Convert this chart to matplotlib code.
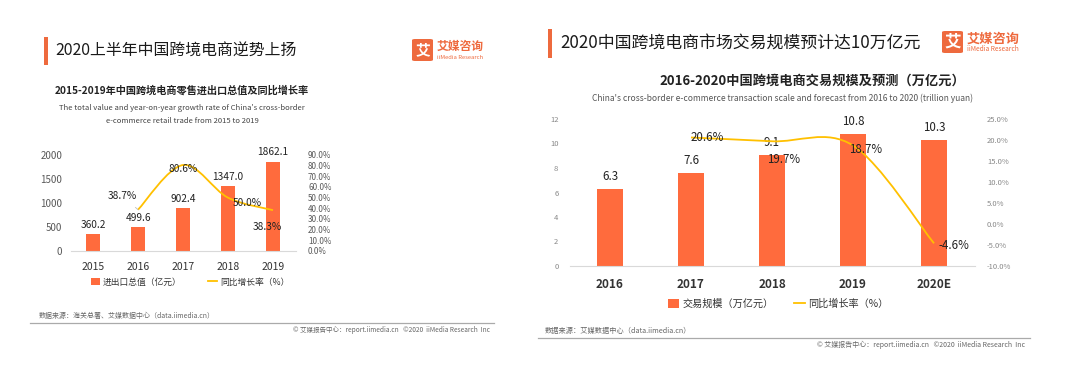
import numpy as np
import matplotlib.pyplot as plt
from matplotlib.path import Path
from matplotlib.patches import PathPatch, FancyBboxPatch, Rectangle
from matplotlib.lines import Line2D
from matplotlib.ticker import FuncFormatter

plt.rcParams['font.family'] = ['Noto Sans CJK SC', 'DejaVu Sans']

# left chart: 2015-2019 retail import/export value
years_a = ['2015', '2016', '2017', '2018', '2019']
trade_a = [360.2, 499.6, 902.4, 1347.0, 1862.1]
growth_a = [None, 38.7, 80.6, 50.0, 38.3]

# right chart: 2016-2020 transaction scale
years_b = ['2016', '2017', '2018', '2019', '2020E']
scale_b = [6.3, 7.6, 9.1, 10.8, 10.3]
growth_b = [None, 20.6, 19.7, 18.7, -4.6]

W, H = 1068, 372
BAR = '#FF6B3D'
LINE = '#FFC000'
ORANGE = '#EE6A3E'

fig = plt.figure(figsize=(W / 100, H / 100), dpi=100)


def px_ax(x0, x1, ytop, ybot):
    return fig.add_axes([x0 / W, 1 - ybot / H, (x1 - x0) / W, (ybot - ytop) / H])


def ftext(x, y, s, **kw):
    fig.text(x / W, 1 - y / H, s, **kw)


def smooth_path(xs, ys):
    # catmull-rom style smoothing (like excel "smoothed line")
    p = np.column_stack([xs, ys]).astype(float)
    pts = [p[0]]
    codes = [Path.MOVETO]
    n = len(p)
    for i in range(n - 1):
        p0 = p[max(i - 1, 0)]
        p3 = p[min(i + 2, n - 1)]
        c1 = p[i] + (p[i + 1] - p0) / 6
        c2 = p[i + 1] - (p3 - p[i]) / 6
        pts += [c1, c2, p[i + 1]]
        codes += [Path.CURVE4] * 3
    return Path(pts, codes)


def logo(x, y, w, h, fs):
    fig.patches.append(FancyBboxPatch((x / W, 1 - (y + h) / H), w / W, h / H,
                                      boxstyle='round,pad=0,rounding_size=0.003',
                                      transform=fig.transFigure, fc=ORANGE, ec='none'))
    ftext(x + w / 2, y + h / 2, '艾', color='white', fontsize=fs * 1.25,
          fontweight='bold', ha='center', va='center')
    ftext(x + w + 4, y + h * 0.36, '艾媒咨询', color=ORANGE, fontsize=fs,
          fontweight='bold', ha='left', va='center')
    ftext(x + w + 4, y + h * 0.82, 'iiMedia Research', color=ORANGE, fontsize=fs * 0.5,
          ha='left', va='center')


def title_bar(x, y0, y1):
    fig.patches.append(Rectangle((x / W, 1 - y1 / H), 4 / W, (y1 - y0) / H,
                                 transform=fig.transFigure, fc=ORANGE, ec='none'))


def style(ax):
    for s in ['top', 'left', 'right']:
        ax.spines[s].set_visible(False)
    ax.spines['bottom'].set_color('#d9d9d9')
    ax.tick_params(length=0)


# ---------------- left panel ----------------
title_bar(44, 37, 65)
ftext(55, 51, '2020上半年中国跨境电商逆势上扬', fontsize=11.4, color='#1a1a1a', va='center')
logo(412, 39, 21, 22, 8.5)
ftext(182, 90, '2015-2019年中国跨境电商零售进出口总值及同比增长率', fontsize=7.3,
      fontweight='bold', color='#222222', ha='center', va='center')
ftext(182, 108, "The total value and year-on-year growth rate of China's cross-border",
      fontsize=5.5, color='#444444', ha='center', va='center')
ftext(182, 121, 'e-commerce retail trade from 2015 to 2019',
      fontsize=5.5, color='#444444', ha='center', va='center')

ax1 = px_ax(70.5, 295.5, 155, 251)
x = np.arange(len(years_a))
bars = ax1.bar(x, trade_a, width=0.31, color=BAR, zorder=2)
ax1.set_xlim(-0.5, 4.5)
ax1.set_ylim(0, 2000)
ax1.set_yticks(range(0, 2001, 500))
ax1.set_xticks(x, years_a)
style(ax1)
ax1.tick_params(axis='y', labelsize=7, labelcolor='#595959', pad=6)
ax1.tick_params(axis='x', labelsize=7.5, labelcolor='#333333', pad=8)
ax1.bar_label(bars, labels=[f'{v:.1f}' for v in trade_a], padding=3, fontsize=7.3, color='#222222')

ax1r = ax1.twinx()
ax1r.set_ylim(0, 90)
ax1r.set_yticks(range(0, 91, 10))
ax1r.yaxis.set_major_formatter(FuncFormatter(lambda v, p: f'{v:.1f}%'))
ax1r.tick_params(length=0, labelsize=5.8, labelcolor='#595959', pad=9)
for s in ax1r.spines.values():
    s.set_visible(False)
gx = [i for i, g in enumerate(growth_a) if g is not None]
gy = [g for g in growth_a if g is not None]
ax1r.add_patch(PathPatch(smooth_path(gx, gy), fc='none', ec=LINE, lw=1.3, zorder=3))
offs_a = [(-11, 10), (0, -3), (14, -4), (-4, -12)]
for xi, yi, o in zip(gx, gy, offs_a):
    kw = {}
    if o == offs_a[0]:
        kw['arrowprops'] = dict(arrowstyle='-', color='#bfbfbf', lw=0.6, shrinkA=4, shrinkB=0)
    ax1r.annotate(f'{yi:.1f}%', (xi, yi), xytext=o, textcoords='offset points',
                  ha='center', va='center', fontsize=7.3, color='#222222', zorder=4, **kw)

h1 = [Rectangle((0, 0), 1, 1, fc=BAR), Line2D([0], [0], color=LINE, lw=1.3)]
ax1.legend(h1, ['进出口总值（亿元）', '同比增长率（%）'], loc='center', ncol=2,
           bbox_to_anchor=(190 / W, 1 - 282 / H), bbox_transform=fig.transFigure,
           frameon=False, fontsize=6.3, handlelength=1.1, handleheight=0.9,
           columnspacing=3.0, handletextpad=0.3, labelcolor='#333333')

ftext(39, 316, '数据来源：海关总署、艾媒数据中心（data.iimedia.cn）', fontsize=5,
      color='#666666', va='center')
fig.add_artist(Line2D([30 / W, 494 / W], [1 - 323 / H] * 2, color='#aaaaaa', lw=0.9))
ftext(490, 329.5, '© 艾媒报告中心：report.iimedia.cn   ©2020  iiMedia Research  Inc',
      fontsize=4.7, color='#666666', ha='right', va='center')

# ---------------- right panel ----------------
title_bar(548, 29, 58)
ftext(560, 43, '2020中国跨境电商市场交易规模预计达10万亿元', fontsize=12.2,
      color='#1a1a1a', va='center')
logo(942, 31, 21, 22, 9.5)
ftext(812, 81, '2016-2020中国跨境电商交易规模及预测（万亿元）', fontsize=9.5,
      fontweight='bold', color='#222222', ha='center', va='center')
ftext(782, 98, "China's cross-border e-commerce transaction scale and forecast from 2016 to 2020 (trillion yuan)",
      fontsize=6.1, color='#555555', ha='center', va='center')

ax2 = px_ax(569.5, 974.5, 119, 266)
x = np.arange(len(years_b))
bars = ax2.bar(x, scale_b, width=0.32, color=BAR, zorder=2)
ax2.set_xlim(-0.5, 4.5)
ax2.set_ylim(0, 12)
ax2.set_yticks(range(0, 13, 2))
ax2.set_xticks(x, years_b)
style(ax2)
ax2.tick_params(axis='y', labelsize=5.5, labelcolor='#888888', pad=8)
ax2.tick_params(axis='x', labelsize=8.5, labelcolor='#333333', pad=9)
for t in ax2.get_xticklabels():
    t.set_fontweight('bold')
ax2.bar_label(bars, labels=[f'{v:.1f}' for v in scale_b], padding=4, fontsize=8.3, color='#222222')

ax2r = ax2.twinx()
ax2r.set_ylim(-10, 25)
ax2r.set_yticks(range(-10, 26, 5))
ax2r.yaxis.set_major_formatter(FuncFormatter(lambda v, p: f'{v:.1f}%'))
ax2r.tick_params(length=0, labelsize=5.5, labelcolor='#888888', pad=9)
for s in ax2r.spines.values():
    s.set_visible(False)
gx = [i for i, g in enumerate(growth_b) if g is not None]
gy = [g for g in growth_b if g is not None]
ax2r.add_patch(PathPatch(smooth_path(gx, gy), fc='none', ec=LINE, lw=1.3, zorder=3))
offs_b = [(12, 0), (8, -13), (9, -3), (14, -1.5)]
for xi, yi, o in zip(gx, gy, offs_b):
    ax2r.annotate(f'{yi:.1f}%', (xi, yi), xytext=o, textcoords='offset points',
                  ha='center', va='center', fontsize=8.3, color='#222222', zorder=4)

h2 = [Rectangle((0, 0), 1, 1, fc=BAR), Line2D([0], [0], color=LINE, lw=1.3)]
ax2.legend(h2, ['交易规模（万亿元）', '同比增长率（%）'], loc='center', ncol=2,
           bbox_to_anchor=(778 / W, 1 - 304 / H), bbox_transform=fig.transFigure,
           frameon=False, fontsize=7.3, handlelength=1.1, handleheight=0.9,
           columnspacing=2.0, handletextpad=0.3, labelcolor='#333333')

ftext(545, 331, '数据来源：艾媒数据中心（data.iimedia.cn）', fontsize=5.2,
      color='#666666', va='center')
fig.add_artist(Line2D([538 / W, 1030 / W], [1 - 338 / H] * 2, color='#aaaaaa', lw=0.9))
ftext(1025, 344.5, '© 艾媒报告中心：report.iimedia.cn   ©2020  iiMedia Research  Inc',
      fontsize=5, color='#666666', ha='right', va='center')

fig.savefig('out.png', dpi=100)
